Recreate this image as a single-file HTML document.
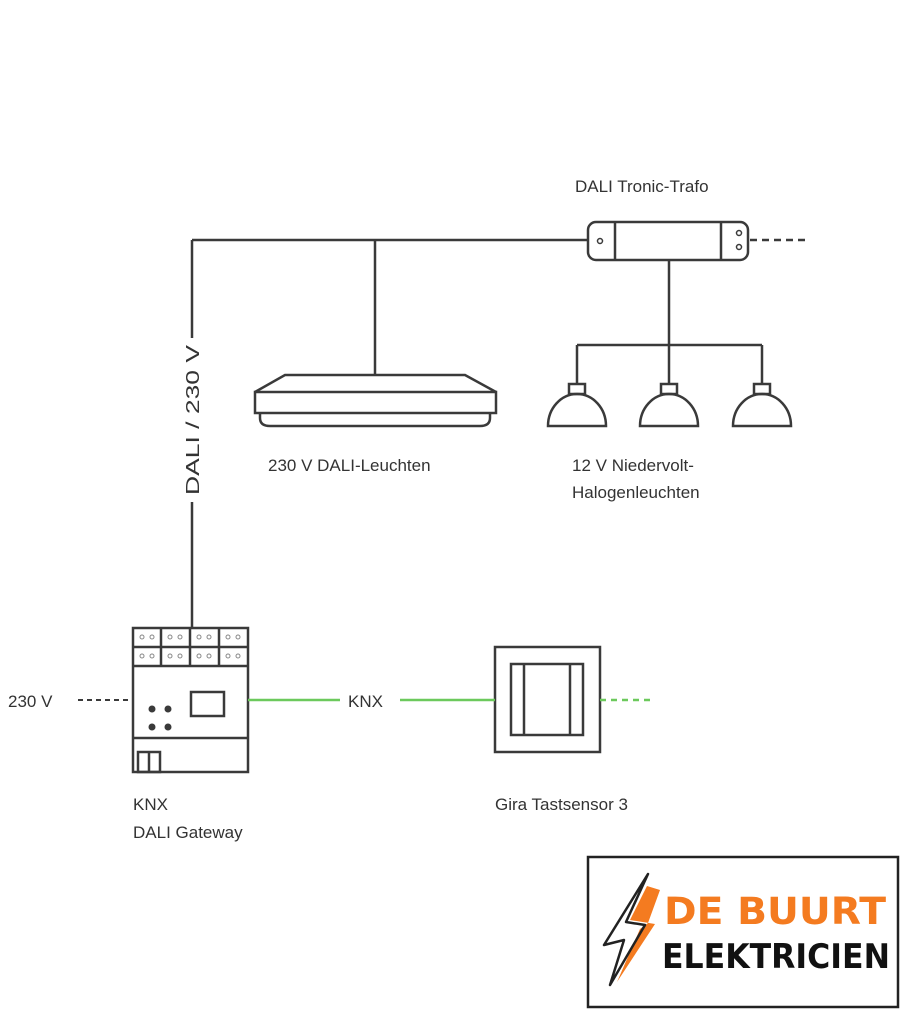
<!DOCTYPE html>
<html><head><meta charset="utf-8"><style>
html,body{margin:0;padding:0;background:#fff;}
svg{display:block;}
text{font-family:"Liberation Sans",sans-serif;fill:#333;}
</style></head><body>
<svg width="922" height="1024" viewBox="0 0 922 1024" xmlns="http://www.w3.org/2000/svg">
<g stroke="#3a3a3a" stroke-width="2.5" fill="none">
  <line x1="192" y1="240" x2="588" y2="240"/>
  <line x1="192" y1="240" x2="192" y2="338"/>
  <line x1="192" y1="502" x2="192" y2="628"/>
  <line x1="375" y1="240" x2="375" y2="375"/>
  <rect x="588" y="222" width="160" height="38" rx="8"/>
  <line x1="615" y1="222" x2="615" y2="260"/>
  <line x1="721" y1="222" x2="721" y2="260"/>
  <circle cx="600" cy="241" r="2.5" stroke-width="1.5"/>
  <circle cx="739" cy="233" r="2.5" stroke-width="1.5"/>
  <circle cx="739" cy="247" r="2.5" stroke-width="1.5"/>
  <line x1="750" y1="240" x2="805" y2="240" stroke-dasharray="7,5"/>
  <line x1="669" y1="260" x2="669" y2="345"/>
  <line x1="577" y1="345" x2="762" y2="345"/>
  <line x1="577" y1="345" x2="577" y2="384"/>
  <line x1="669" y1="345" x2="669" y2="384"/>
  <line x1="762" y1="345" x2="762" y2="384"/>
  <g id="lamp">
    <rect x="569" y="384" width="16" height="10"/>
    <path d="M548 426 A29 32 0 0 1 606 426 Z"/>
  </g>
  <use href="#lamp" transform="translate(92,0)"/>
  <use href="#lamp" transform="translate(185,0)"/>
  <path d="M255 392 L285 375 L465 375 L496 392"/>
  <rect x="255" y="392" width="241" height="21"/>
  <path d="M260 413 L260 418 Q260 426 270 426 L480 426 Q490 426 490 418 L490 413"/>
  <rect x="133" y="628" width="115" height="144"/>
  <line x1="133" y1="647" x2="248" y2="647"/>
  <line x1="133" y1="666" x2="248" y2="666"/>
  <line x1="161" y1="628" x2="161" y2="666"/>
  <line x1="190" y1="628" x2="190" y2="666"/>
  <line x1="219" y1="628" x2="219" y2="666"/>
  <line x1="133" y1="738" x2="248" y2="738"/>
  <rect x="191" y="692" width="33" height="24"/>
  <rect x="138" y="752" width="22" height="20"/>
  <line x1="149" y1="752" x2="149" y2="772"/>
  <line x1="78" y1="700" x2="133" y2="700" stroke-dasharray="5,4" stroke-width="2"/>
  <rect x="495" y="647" width="105" height="105"/>
  <rect x="511" y="664" width="72" height="71"/>
  <line x1="524" y1="664" x2="524" y2="735"/>
  <line x1="570" y1="664" x2="570" y2="735"/>
</g>
<g fill="#3a3a3a">
  <circle cx="152" cy="709" r="3.5"/><circle cx="168" cy="709" r="3.5"/>
  <circle cx="152" cy="727" r="3.5"/><circle cx="168" cy="727" r="3.5"/>
</g>
<g fill="none" stroke="#888" stroke-width="1">
  <circle cx="142" cy="637" r="2"/><circle cx="152" cy="637" r="2"/>
  <circle cx="170" cy="637" r="2"/><circle cx="180" cy="637" r="2"/>
  <circle cx="199" cy="637" r="2"/><circle cx="209" cy="637" r="2"/>
  <circle cx="228" cy="637" r="2"/><circle cx="238" cy="637" r="2"/>
  <circle cx="142" cy="656" r="2"/><circle cx="152" cy="656" r="2"/>
  <circle cx="170" cy="656" r="2"/><circle cx="180" cy="656" r="2"/>
  <circle cx="199" cy="656" r="2"/><circle cx="209" cy="656" r="2"/>
  <circle cx="228" cy="656" r="2"/><circle cx="238" cy="656" r="2"/>
</g>
<g stroke="#6cc95c" stroke-width="2.5">
  <line x1="248" y1="700" x2="340" y2="700"/>
  <line x1="400" y1="700" x2="495" y2="700"/>
  <line x1="600" y1="700" x2="655" y2="700" stroke-dasharray="6,5"/>
</g>
<g font-size="17">
  <text x="575" y="192">DALI Tronic-Trafo</text>
  <text x="268" y="471">230 V DALI-Leuchten</text>
  <text x="572" y="471">12 V Niedervolt-</text>
  <text x="572" y="498">Halogenleuchten</text>
  <text x="8" y="707">230 V</text>
  <text x="348" y="707">KNX</text>
  <text x="133" y="810">KNX</text>
  <text x="133" y="838">DALI Gateway</text>
  <text x="495" y="810">Gira Tastsensor 3</text>
  <text transform="translate(199,495) rotate(-90)" font-size="18" textLength="150" lengthAdjust="spacingAndGlyphs">DALI / 230 V</text>
</g>
<rect x="588" y="857" width="310" height="150" fill="#fff" stroke="#222" stroke-width="2.5"/>
<path d="M647 886 L630 920 L655 924 L617 982 L640 929 L648 923 L660 890 Z" fill="#f47b20"/>
<path d="M648 874 L604 945 L624 940 L610 985 L645 925 L626 922 Z" fill="none" stroke="#222" stroke-width="2.5" stroke-linejoin="round"/>
<text x="664" y="924" font-size="37" font-weight="bold" style="fill:#f47b20;font-family:'DejaVu Sans','Liberation Sans',sans-serif" textLength="222" lengthAdjust="spacingAndGlyphs">DE BUURT</text>
<text x="662" y="968" font-size="34" font-weight="bold" style="fill:#111;font-family:'DejaVu Sans','Liberation Sans',sans-serif" textLength="228" lengthAdjust="spacingAndGlyphs">ELEKTRICIEN</text>
</svg>
</body></html>
